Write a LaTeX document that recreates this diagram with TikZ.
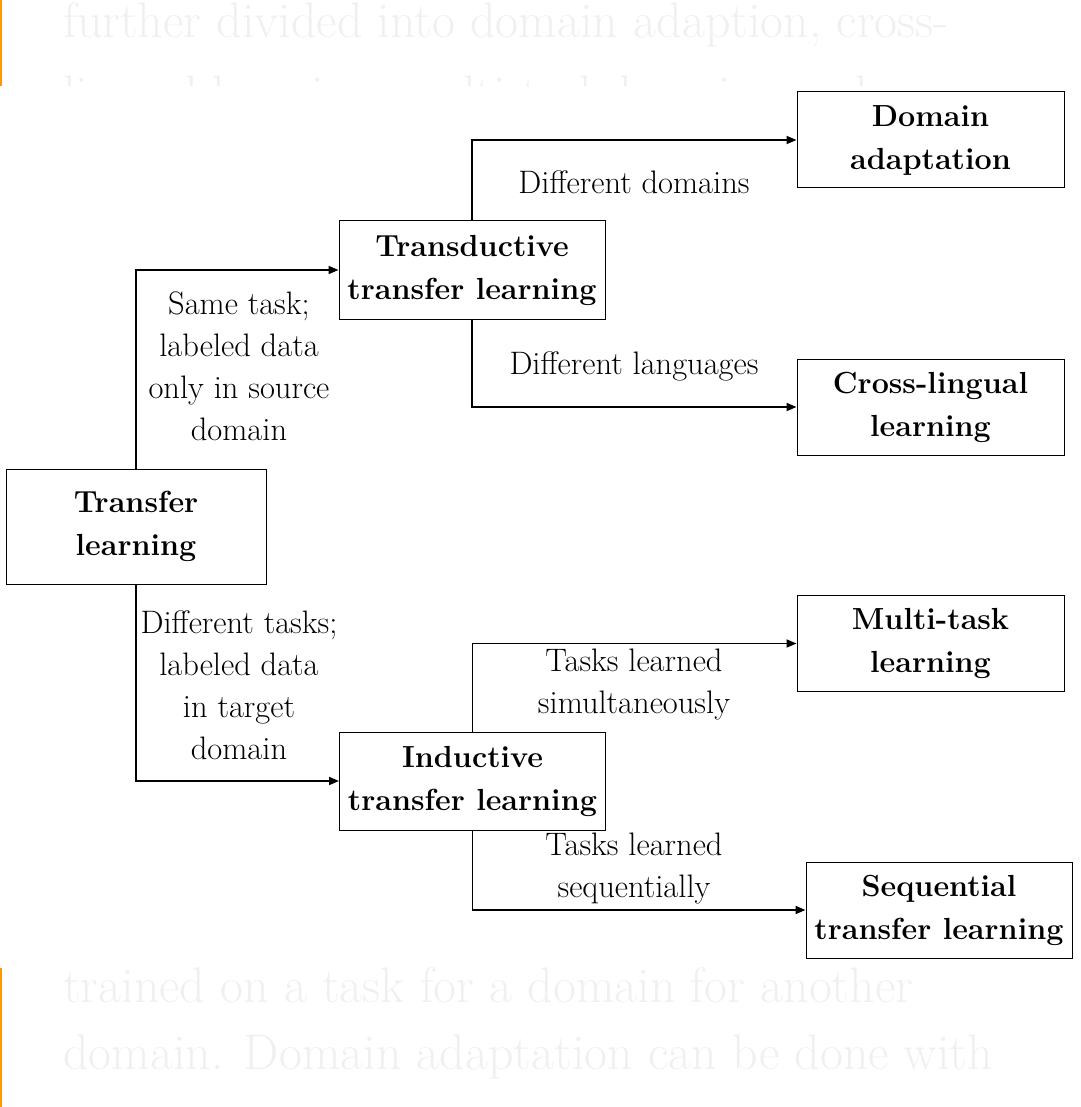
\documentclass[tikz,border=0pt]{standalone}
\usetikzlibrary{arrows.meta}
\begin{document}
\begin{tikzpicture}[x=1pt,y=-1pt,
  box/.style={draw,line width=1pt,align=center,font=\fontsize{30.5}{43}\selectfont\bfseries,minimum height=96pt,inner sep=0pt},
  lab/.style={align=center,font=\fontsize{32.5}{42}\selectfont,inner sep=0pt},
  arr/.style={line width=1.8pt,-{Triangle[length=10pt,width=8pt]}},
  bg/.style={anchor=west,inner sep=0pt,text=black!6,font=\fontsize{50}{60}\selectfont}]
\useasboundingbox (0,0) rectangle (1080,1107);
% faint background page text
\node[bg] (b1) at (63,25) {further divided into domain adaption, cross-};
\node[bg] (b2) at (63,98) {lingual learning, multi-task learning and};
\node[bg] (b3) at (63,985) {trained on a task for a domain for another};
\node[bg] (b4) at (63,1057) {domain. Domain adaptation can be done with};
\fill[white] (3,86) rectangle (1080,966);
\fill[orange!80!yellow] (0,0) rectangle (2,86);
\fill[orange!80!yellow] (0,968) rectangle (2,1107);
% nodes
\node[box,minimum width=260pt,minimum height=115pt] (tl) at (136,526.5) {Transfer\\learning};
\node[box,minimum width=266pt,minimum height=98pt] (tr) at (472,270) {Transductive\\transfer learning};
\node[box,minimum width=266pt,minimum height=98pt] (in) at (472.5,781) {Inductive\\transfer learning};
\node[box,minimum width=267pt] (da) at (930.5,140) {Domain\\adaptation};
\node[box,minimum width=267pt] (cl) at (930.5,407) {Cross-lingual\\learning};
\node[box,minimum width=267pt] (mt) at (930.5,643.5) {Multi-task\\learning};
\node[box,minimum width=266pt] (sq) at (939,910) {Sequential\\transfer learning};
% connectors
\draw[arr] (tl.north) |- (tr.west);
\draw[arr] (tl.south) |- (in.west);
\draw[arr] (tr.north) |- (da.west);
\draw[arr] (tr.south) |- (cl.west);
\draw[arr] (in.north) |- (mt.west);
\draw[arr] (in.south) |- (sq.west);
% labels
\node[lab] (l1) at (239,366) {Same task;\\labeled data\\only in source\\domain};
\node[lab] (l2) at (239,685) {Different tasks;\\labeled data\\in target\\domain};
\node[lab] (l3) at (634,182) {Different domains};
\node[lab] (l4) at (634,366) {Different languages};
\node[lab] (l5) at (634,685) {Tasks learned\\simultaneously};
\node[lab] (l6) at (634,869) {Tasks learned\\sequentially};
\end{tikzpicture}
\end{document}
